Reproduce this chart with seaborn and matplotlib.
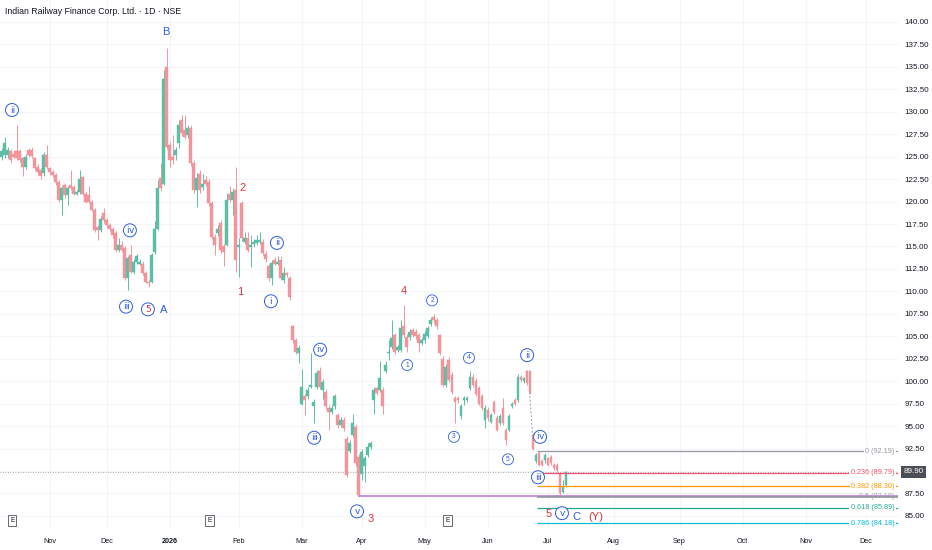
import numpy as np
import pandas as pd
import matplotlib
matplotlib.use("Agg")
import matplotlib.pyplot as plt
import matplotlib.transforms as mtransforms
from matplotlib import font_manager
import seaborn as sns

# daily candles, one per trading session (bar index = position on the time axis)
opens = [
    125.0, 125.2, 125.2, 125.6, 125.3, 125.6, 125.6, 124.8, 123.9, 125.8,
    125.8, 124.8, 123.9, 123.5, 123.2, 125.2, 123.7, 123.3, 123.0, 122.2,
    120.2, 121.9, 120.7, 121.9, 121.6, 120.9, 121.1, 122.7, 120.9, 120.7,
    120.0, 119.1, 117.2, 116.8, 118.7, 118.0, 117.4, 117.0, 116.5, 114.6,
    115.2, 114.8, 111.5, 114.1, 112.2, 113.3, 113.1, 113.1, 112.0, 111.1,
    111.1, 114.4, 117.0, 122.6, 122.0, 135.0, 126.3, 125.0, 125.2, 126.5,
    129.1, 128.0, 127.4, 128.2, 124.3, 121.3, 123.1, 121.6, 122.4, 122.2,
    119.8, 116.1, 116.5, 117.6, 115.0, 115.2, 120.9, 120.2, 121.3, 114.9,
    119.8, 115.5, 115.9, 114.9, 115.3, 115.4, 115.5, 115.5, 114.2, 112.8,
    111.5, 113.5, 113.1, 113.5, 111.3, 112.0, 111.5, 106.1, 104.6, 103.1,
    97.5, 98.3, 98.3, 99.4, 97.2, 99.4, 101.1, 99.0, 98.8, 97.0,
    96.6, 97.2, 96.2, 95.1, 95.7, 93.6, 92.2, 94.0, 94.9, 91.6,
    89.7, 90.6, 91.8, 92.7, 97.9, 99.2, 99.0, 99.0, 101.1, 103.1,
    103.8, 105.1, 103.5, 103.5, 106.1, 104.9, 104.9, 105.7, 105.5, 105.1,
    104.2, 104.6, 105.0, 106.4, 107.2, 106.8, 105.1, 102.5, 99.6, 102.4,
    100.7, 98.1, 98.1, 96.1, 97.9, 97.9, 99.2, 100.5, 100.0, 99.2,
    98.3, 95.7, 96.8, 95.5, 97.7, 95.9, 95.3, 97.0, 94.6, 94.6,
    97.2, 97.9, 97.9, 100.5, 100.0, 101.1, 101.1, 94.0, 91.1, 92.0,
    91.1, 91.2, 91.4, 91.6, 90.7, 90.7, 89.7, 87.7, 88.4,
]
highs = [
    126.0, 127.2, 126.1, 125.9, 125.8, 128.5, 125.9, 125.0, 125.3, 126.0,
    126.1, 125.0, 124.2, 123.7, 125.5, 126.3, 123.9, 123.5, 123.2, 122.4,
    121.7, 122.1, 121.7, 123.5, 121.8, 121.3, 123.5, 122.9, 121.1, 121.7,
    120.2, 119.3, 117.4, 118.4, 119.3, 118.2, 117.6, 117.2, 116.7, 115.9,
    115.6, 115.0, 113.9, 115.2, 113.6, 114.2, 113.6, 113.4, 112.3, 111.3,
    114.3, 117.8, 122.4, 124.3, 134.6, 137.1, 126.6, 127.4, 126.1, 129.1,
    129.6, 129.6, 128.5, 128.5, 124.6, 123.2, 123.5, 123.1, 122.8, 122.5,
    120.1, 116.4, 117.4, 117.9, 115.3, 121.0, 121.7, 121.5, 123.9, 116.0,
    120.1, 116.6, 116.6, 116.3, 115.8, 116.3, 116.6, 115.8, 114.5, 113.1,
    113.5, 113.8, 113.9, 113.9, 112.7, 112.2, 111.7, 106.3, 104.8, 104.0,
    101.4, 98.6, 99.3, 103.1, 98.0, 101.2, 101.6, 100.2, 99.1, 97.3,
    97.3, 98.6, 96.5, 96.0, 96.0, 93.9, 93.4, 96.4, 95.2, 91.9,
    92.4, 91.7, 93.1, 93.3, 99.3, 99.4, 102.2, 99.3, 102.2, 104.6,
    106.8, 105.4, 104.0, 106.8, 108.5, 105.2, 105.8, 105.9, 105.8, 105.4,
    104.8, 105.6, 106.2, 107.1, 107.5, 107.0, 105.3, 102.8, 101.9, 102.7,
    101.0, 98.4, 98.3, 97.5, 98.4, 98.3, 101.1, 100.8, 100.3, 99.5,
    98.6, 97.3, 97.1, 96.5, 97.9, 96.2, 96.3, 98.1, 94.8, 96.3,
    97.7, 98.1, 100.8, 100.7, 100.5, 101.3, 101.3, 94.2, 92.0, 92.2,
    91.3, 92.0, 91.6, 91.8, 90.9, 90.9, 89.9, 89.0, 90.0,
]
lows = [
    124.6, 124.9, 124.9, 124.3, 124.8, 124.6, 124.4, 122.8, 123.6, 125.0,
    124.9, 123.5, 123.0, 122.5, 122.8, 123.6, 123.0, 122.7, 121.9, 120.0,
    118.5, 120.4, 119.6, 121.3, 120.7, 120.7, 120.9, 120.7, 119.8, 119.8,
    118.9, 116.6, 115.7, 116.6, 117.6, 117.1, 116.7, 116.0, 114.4, 114.4,
    114.4, 111.3, 110.2, 112.0, 111.9, 113.0, 112.9, 111.8, 110.9, 110.5,
    110.9, 114.2, 116.8, 121.2, 121.8, 125.9, 123.9, 124.2, 124.6, 126.0,
    127.3, 127.0, 127.1, 124.0, 121.0, 119.4, 121.0, 121.3, 121.7, 119.5,
    115.8, 114.0, 116.2, 114.3, 112.8, 115.0, 119.9, 118.5, 112.2, 111.6,
    115.6, 115.3, 114.4, 112.7, 114.9, 115.2, 115.3, 114.0, 113.3, 111.2,
    110.7, 112.9, 112.9, 111.3, 110.9, 111.6, 109.0, 104.3, 103.0, 102.0,
    97.3, 96.2, 98.0, 99.2, 95.3, 99.1, 99.1, 98.0, 96.9, 94.6,
    96.3, 96.9, 94.8, 94.9, 94.5, 89.3, 92.0, 93.8, 90.6, 87.2,
    89.0, 88.8, 91.6, 92.5, 96.4, 98.5, 98.8, 96.4, 100.9, 102.4,
    103.6, 103.0, 103.3, 103.2, 104.9, 103.3, 104.6, 104.9, 104.7, 103.3,
    104.0, 104.3, 104.8, 106.2, 106.5, 105.8, 102.9, 99.3, 99.4, 99.9,
    98.6, 95.3, 97.6, 95.8, 97.3, 97.7, 99.0, 99.4, 98.4, 97.3,
    96.8, 94.8, 95.6, 95.3, 96.4, 94.4, 95.1, 95.1, 92.9, 94.4,
    97.0, 97.3, 97.7, 99.9, 99.8, 99.6, 98.6, 92.3, 90.9, 90.5,
    90.5, 90.9, 90.5, 90.7, 90.1, 89.9, 87.3, 87.5, 88.2,
]
closes = [
    125.6, 126.5, 125.7, 124.6, 125.0, 124.9, 124.6, 123.9, 125.0, 125.2,
    125.1, 123.7, 123.3, 122.8, 125.2, 123.9, 123.3, 123.0, 122.2, 120.2,
    121.5, 120.7, 121.5, 121.5, 120.9, 121.1, 122.5, 120.9, 120.0, 120.0,
    119.1, 116.8, 116.8, 118.1, 117.9, 117.4, 117.0, 116.3, 114.6, 115.2,
    114.6, 111.5, 113.7, 112.2, 113.3, 113.9, 113.3, 112.0, 111.1, 110.9,
    114.1, 117.0, 121.5, 121.5, 133.7, 126.1, 124.6, 124.6, 125.7, 128.5,
    127.6, 127.2, 128.2, 124.3, 121.3, 122.6, 121.3, 122.0, 122.0, 119.8,
    116.1, 115.2, 117.0, 114.6, 114.4, 120.2, 120.2, 121.1, 113.5, 115.2,
    115.9, 115.9, 114.6, 115.2, 115.5, 115.7, 115.7, 114.3, 113.6, 111.5,
    113.2, 113.1, 113.3, 111.5, 112.0, 111.8, 109.4, 104.6, 103.3, 103.7,
    99.4, 97.9, 99.0, 99.6, 97.7, 100.9, 99.4, 99.9, 97.2, 96.6,
    97.0, 98.3, 95.1, 95.7, 94.8, 89.6, 93.1, 95.3, 90.9, 87.3,
    92.1, 91.4, 92.7, 93.1, 99.0, 98.7, 100.3, 97.2, 101.8, 103.3,
    104.8, 103.3, 103.8, 105.9, 105.1, 103.8, 105.5, 105.1, 105.0, 104.2,
    104.6, 105.3, 105.9, 106.8, 106.8, 106.1, 103.1, 99.6, 101.6, 100.1,
    98.8, 97.7, 97.9, 97.2, 98.1, 98.1, 100.5, 99.6, 98.6, 97.5,
    97.0, 97.0, 95.9, 96.2, 96.6, 94.6, 96.1, 95.3, 93.5, 96.1,
    97.5, 97.5, 100.5, 100.1, 100.3, 99.8, 98.8, 92.5, 91.8, 90.7,
    90.7, 91.8, 90.7, 90.9, 90.3, 90.1, 87.5, 88.3, 89.9,
]

# time axis: first session of each month, as a bar index
month_labels = ["Nov", "Dec", "2026", "Feb", "Mar", "Apr", "May", "Jun",
                "Jul", "Aug", "Sep", "Oct", "Nov", "Dec"]
month_bars = [16, 35, 56, 79, 100, 120, 141, 162, 182, 204, 226, 247, 268, 288]

# fibonacci retracement
fib_ratios = ["0", "0.236", "0.382", "0.5", "0.618", "0.786"]
fib_prices = [92.19, 89.79, 88.30, 87.18, 85.89, 84.18]
fib_colors = ["#9598a1", "#f0506e", "#ff9800", "#8fa58f", "#22ab94", "#00bcd4"]
fib_start = 178.5

last_price = 89.90
wave3_low = 87.25

# elliott wave labels: bar, price, text, kind
wave_bars = [3.5, 54.8, 42.8, 41.5, 48.8, 54.2, 80.2, 79.5, 91.8, 89.8,
             106.2, 104.2, 134.2, 143.5, 135.2, 155.8, 150.8, 175.2, 179.5,
             168.8, 178.8, 118.5, 123.2, 182.5, 186.8, 191.5, 198.2]
wave_prices = [130.2, 138.9, 116.8, 108.3, 108.0, 107.9, 121.5, 109.9, 115.4,
               108.9, 103.5, 93.7, 110.0, 109.0, 101.8, 102.6, 93.8, 102.9,
               93.8, 91.3, 89.3, 85.5, 84.7, 85.2, 85.3, 84.9, 84.9]
wave_texts = ["ⅱ", "B", "ⅳ", "ⅲ", "5", "A", "2", "1", "ⅱ", "ⅰ",
              "ⅳ", "ⅲ", "4", "2", "1", "4", "3", "ⅱ", "ⅳ",
              "5", "ⅲ", "ⅴ", "3", "5", "ⅴ", "C", "(Y)"]
wave_kinds = ["circ", "blue", "circ", "circ", "circred", "blue", "red", "red",
              "circ", "circ", "circ", "circ", "red", "small", "small", "small",
              "small", "circ", "circ", "small", "circ", "circ", "red", "red",
              "circ", "blue", "red"]

earnings_bars = [3.6, 69.3, 148.6]

sns.set_theme(style="white")
plt.rcParams['font.family'] = ['Liberation Sans', 'DejaVu Sans']

# narrow face for the header line if it is there
try:
    font_manager.findfont("Liberation Sans Narrow", fallback_to_default=False)
    title_family = ["Liberation Sans Narrow", "DejaVu Sans"]
except Exception:
    title_family = ["Liberation Sans", "DejaVu Sans"]

df = pd.DataFrame({"open": opens, "high": highs, "low": lows, "close": closes})
df["bar"] = np.arange(len(df))
df["up"] = df["close"] >= df["open"]

up_col = "#5cbfa5"
down_col = "#f3949b"
blue = "#2f5be0"
red = "#e0333c"

fig = plt.figure(figsize=(9.32, 5.5), dpi=100)
ax = fig.add_axes([0, 22 / 550, 898 / 932, 528 / 550])
ax.set_xlim(-0.5, 298.8)
ax.set_ylim(83.65, 142.45)

yt = np.arange(85, 140.01, 2.5)
for y in yt:
    ax.axhline(y, color="#f4f5f8", lw=0.8, zorder=0)
for b in month_bars:
    ax.axvline(b, color="#f4f5f8", lw=0.8, zorder=0)

# candles
colors = np.where(df["up"], up_col, down_col)
ax.vlines(df["bar"], df["low"], df["high"], colors=colors, lw=0.7, zorder=2)
body_lo = df[["open", "close"]].min(axis=1)
body_h = (df["close"] - df["open"]).abs().clip(lower=0.12)
ax.bar(df["bar"], body_h, bottom=body_lo, width=0.7, color=colors,
       edgecolor=colors, linewidth=0.3, zorder=3)

# last price dotted line
ax.axhline(last_price, color="#8a8d96", lw=0.6, ls=(0, (1, 2)), zorder=1)

# dashed connector between last wave ii and the gap down
ax.plot([176, 177], [98.8, 94.0], color="#9598a1", lw=0.7, ls=(0, (2, 2)), zorder=2)

# fib levels
for r, p, c in zip(fib_ratios, fib_prices, fib_colors):
    ax.hlines(p, fib_start, 298.8, color=c, lw=0.9, zorder=4)
    ax.text(297.6, p, f"{r} ({p:.2f})", ha="right", va="center", fontsize=5.2,
            color=c, zorder=5,
            bbox=dict(boxstyle="square,pad=0.2", fc="white", ec="none"))

# wave 3 low line
ax.hlines(wave3_low, 118.7, 298.8, color="#c892dc", lw=1.4, zorder=6)
ax.hlines(wave3_low - 0.12, fib_start, 298.8, color="#8f929b", lw=1.1, zorder=6)

# wave labels
for b, p, t, k in zip(wave_bars, wave_prices, wave_texts, wave_kinds):
    if k == "blue":
        ax.text(b, p, t, ha="center", va="center", fontsize=8, color=blue, zorder=7)
    elif k == "red":
        ax.text(b, p, t, ha="center", va="center", fontsize=8, color=red, zorder=7)
    elif k == "small":
        ax.text(b, p, t, ha="center", va="center", fontsize=4.8, color=blue, zorder=7,
                bbox=dict(boxstyle="circle,pad=0.3", fc="white", ec=blue, lw=0.6))
    else:
        tc = red if k == "circred" else blue
        ax.text(b, p, t, ha="center", va="center", fontsize=6.5, color=tc, zorder=7,
                family=["DejaVu Sans"],
                bbox=dict(boxstyle="circle,pad=0.22", fc="white", ec=blue, lw=0.7))

# earnings markers
for b in earnings_bars:
    ax.text(b, 84.45, "E", ha="center", va="center", fontsize=4.8, color="#131722",
            zorder=7, bbox=dict(boxstyle="square,pad=0.3", fc="white", ec="#50535e", lw=0.6))

# axes styling
for s in ax.spines.values():
    s.set_visible(False)
ax.yaxis.tick_right()
ax.set_yticks(yt)
ax.set_yticklabels([f"{v:.2f}" for v in yt])
ax.tick_params(axis="y", length=0, pad=4.5, labelsize=5.8, labelcolor="#131722")
ax.set_xticks(month_bars)
ax.set_xticklabels(month_labels)
ax.tick_params(axis="x", length=0, pad=7, labelsize=5.2, labelcolor="#131722")
for lab in ax.get_xticklabels():
    if lab.get_text() == "2026":
        lab.set_fontweight("bold")
ax.grid(False)

# current price tag on the axis
trans = mtransforms.blended_transform_factory(ax.transAxes, ax.transData)
ax.text(1.006, last_price, f"{last_price:.2f}", transform=trans, ha="left", va="center",
        fontsize=5.8, color="white", zorder=8, clip_on=False,
        bbox=dict(boxstyle="square,pad=0.35", fc="#4b4e57", ec="none"))

fig.text(5 / 932, 1 - 12 / 550, "Indian Railway Finance Corp. Ltd. · 1D · NSE",
         ha="left", va="center", fontsize=6.3, color="#131722", family=title_family)

fig.savefig("out.png", dpi=100)
